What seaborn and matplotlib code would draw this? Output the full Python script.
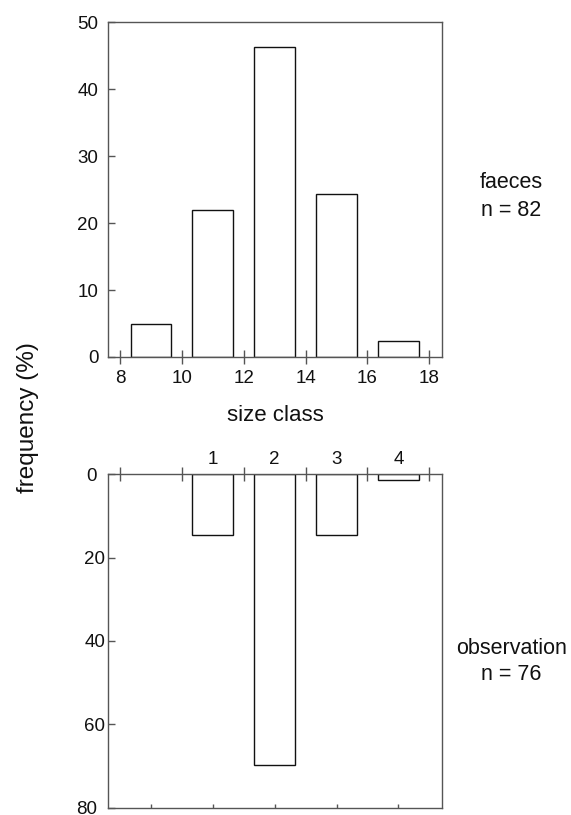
import matplotlib
matplotlib.use("Agg")
import matplotlib.pyplot as plt
import matplotlib.transforms as mtransforms
import seaborn as sns
import pandas as pd

# faeces sample: size-class midpoints and relative frequency (%)
faeces_size = [9, 11, 13, 15, 17]
faeces_freq = [4.88, 21.95, 46.34, 24.39, 2.44]

# observation sample: classes 1-4 placed on the same size axis
obs_pos = [11, 13, 15, 17]
obs_class = ["1", "2", "3", "4"]
obs_freq = [14.47, 69.74, 14.47, 1.32]

size_ticks = [8, 10, 12, 14, 16, 18]

sns.set_theme(style="white")
plt.rcParams["font.family"] = ["Liberation Sans", "DejaVu Sans"]

tick_fs = 13.5
label_fs = 16
ylab_fs = 17.5
side_fs = 15.5

spine_col = "#555555"
text_col = "#111111"

fig = plt.figure(figsize=(5.71, 8.15), dpi=100)
ax1 = fig.add_axes([0.1891, 0.562, 0.585, 0.4107])
ax2 = fig.add_axes([0.1891, 0.009, 0.585, 0.409])

df_f = pd.DataFrame({"size": faeces_size, "freq": faeces_freq})
df_o = pd.DataFrame({"size": obs_pos, "freq": obs_freq})

bar_kw = dict(native_scale=True, width=0.66, color="white",
              edgecolor="#111111", linewidth=1.0, errorbar=None)
sns.barplot(data=df_f, x="size", y="freq", ax=ax1, **bar_kw)
sns.barplot(data=df_o, x="size", y="freq", ax=ax2, **bar_kw)

for ax in (ax1, ax2):
    for sp in ax.spines.values():
        sp.set_visible(True)
        sp.set_color(spine_col)
        sp.set_linewidth(1.0)
    ax.set_xlim(7.61, 18.41)
    ax.set_ylabel("")
    ax.set_xlabel("")

# upper panel
ax1.set_ylim(0, 50)
ax1.set_yticks([0, 10, 20, 30, 40, 50])
ax1.set_xticks(size_ticks)
ax1.tick_params(axis="x", direction="inout", length=10, width=1,
                color=spine_col, labelcolor=text_col, labelsize=tick_fs,
                pad=4.5, bottom=True)
ax1.tick_params(axis="y", direction="in", length=5, width=1,
                color=spine_col, labelcolor=text_col, labelsize=tick_fs,
                pad=7, left=True)
ax1.set_xlabel("size class", fontsize=label_fs, color=text_col,
               labelpad=12.5)

# lower panel (inverted frequency axis)
ax2.set_ylim(80, 0)
ax2.set_yticks([0, 20, 40, 60, 80])
ax2.set_xticks(faeces_size)
ax2.set_xticklabels([])
ax2.tick_params(axis="x", direction="in", length=3, width=1,
                color=spine_col, bottom=True)
ax2.tick_params(axis="y", direction="in", length=5, width=1,
                color=spine_col, labelcolor=text_col, labelsize=tick_fs,
                pad=2, left=True)

top = ax2.secondary_xaxis("top")
top.set_xticks(size_ticks)
top.set_xticklabels([])
top.tick_params(axis="x", which="major", direction="inout", length=10,
                width=1, color=spine_col)
top.set_xticks(obs_pos, labels=obs_class, minor=True)
top.tick_params(axis="x", which="minor", length=0, pad=4.5,
                labelsize=tick_fs, labelcolor=text_col)
top.spines["top"].set_visible(False)

shift = mtransforms.ScaledTranslation(-8 / 100, 0, fig.dpi_scale_trans)
for lab in ax2.get_yticklabels():
    if lab.get_text() in ("0", "80"):
        lab.set_transform(lab.get_transform() + shift)

fig.text(0.049, 1 - 418 / 815, "frequency (%)", rotation=90, ha="center",
         va="center", fontsize=ylab_fs, color=text_col)
fig.text(0.896, 1 - 182 / 815, "faeces", ha="center", va="center",
         fontsize=side_fs, color=text_col)
fig.text(0.896, 1 - 210 / 815, "n = 82", ha="center", va="center",
         fontsize=side_fs, color=text_col)
fig.text(0.896, 1 - 649 / 815, "observation", ha="center", va="center",
         fontsize=side_fs, color=text_col)
fig.text(0.896, 1 - 675 / 815, "n = 76", ha="center", va="center",
         fontsize=side_fs, color=text_col)

fig.savefig("out.png", dpi=100, facecolor="white")
